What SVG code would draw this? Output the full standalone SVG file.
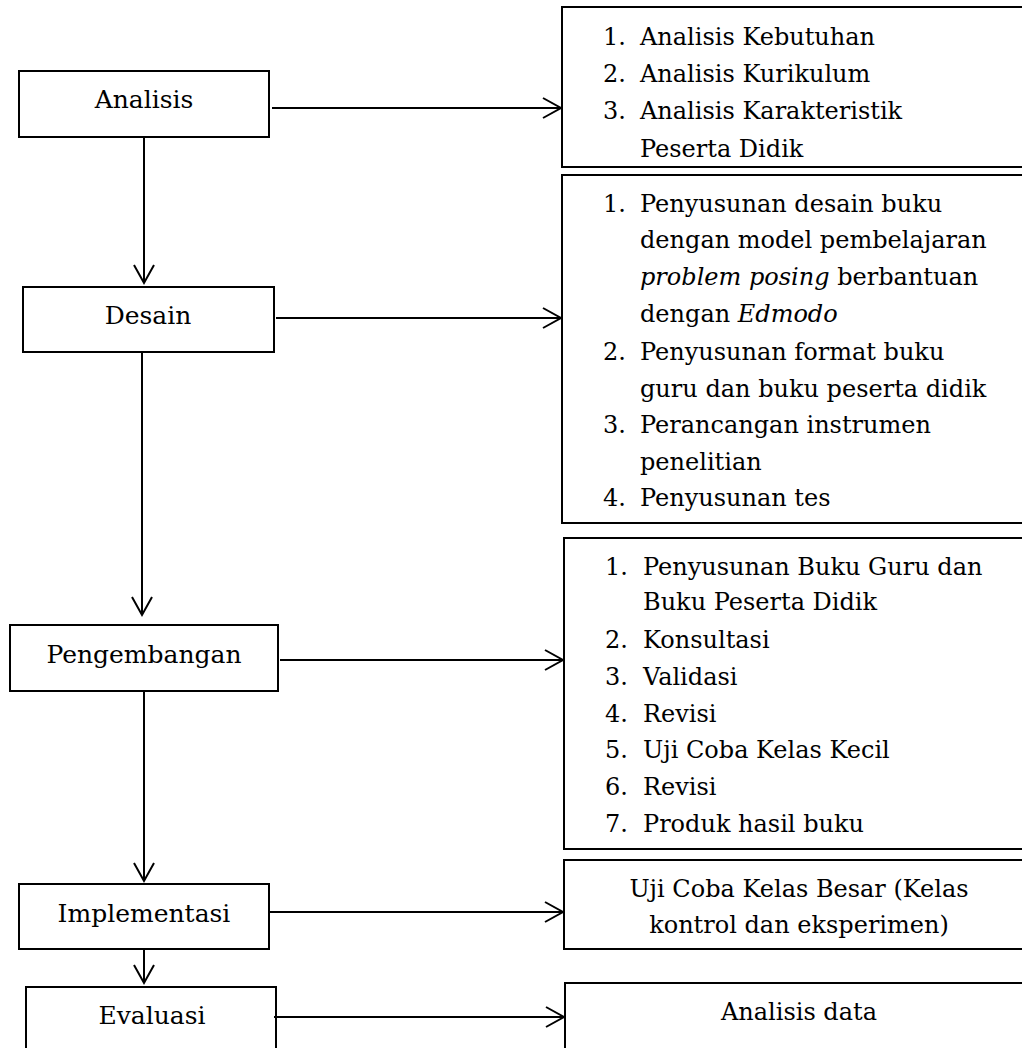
<svg xmlns="http://www.w3.org/2000/svg" width="1022" height="1048" viewBox="0 0 1022 1048">
<style>
.box{fill:#fff;stroke:#000;stroke-width:2}
.lt{font-family:"DejaVu Serif","Liberation Serif",serif;font-size:25px;fill:#000;text-anchor:middle}
.rt{font-family:"DejaVu Serif","Liberation Serif",serif;font-size:24px;fill:#000}
.c{text-anchor:middle}
.it{font-style:italic}
.ln{stroke:#000;stroke-width:2;fill:none;marker-end:url(#ah)}
</style>
<defs>
<marker id="ah" markerUnits="userSpaceOnUse" markerWidth="24" markerHeight="24" viewBox="-20 -12 24 24" refX="0" refY="0" orient="auto">
<path d="M-18,-10 L0,0 L-18,10" fill="none" stroke="#000" stroke-width="2"/>
</marker>
</defs>
<rect width="1022" height="1048" fill="#fff"/>
<g id="analisis"><rect class="box" x="19" y="71" width="250" height="66"/><text class="lt" x="144" y="108">Analisis</text></g>
<g id="desain"><rect class="box" x="23" y="287" width="251" height="65"/><text class="lt" x="148" y="324">Desain</text></g>
<g id="pengembangan"><rect class="box" x="10" y="625" width="268" height="66"/><text class="lt" x="144" y="663">Pengembangan</text></g>
<g id="implementasi"><rect class="box" x="19" y="884" width="250" height="65"/><text class="lt" x="144" y="922">Implementasi</text></g>
<g id="evaluasi"><rect class="box" x="26" y="987" width="250" height="80"/><text class="lt" x="152" y="1024">Evaluasi</text></g>
<g id="analisis-detail"><rect class="box" x="562" y="7" width="480" height="160"/>
<text class="rt"><tspan x="603" y="45">1.</tspan><tspan x="640" y="45">Analisis Kebutuhan</tspan><tspan x="603" y="82">2.</tspan><tspan x="640" y="82">Analisis Kurikulum</tspan><tspan x="603" y="119">3.</tspan><tspan x="640" y="119">Analisis Karakteristik</tspan><tspan x="640" y="157">Peserta Didik</tspan></text></g>
<g id="desain-detail"><rect class="box" x="562" y="175" width="480" height="348"/>
<text class="rt"><tspan x="603" y="212">1.</tspan><tspan x="640" y="212">Penyusunan desain buku</tspan><tspan x="640" y="248">dengan model pembelajaran</tspan><tspan x="640" y="285" class="it">problem posing</tspan><tspan> berbantuan</tspan><tspan x="640" y="322">dengan </tspan><tspan class="it">Edmodo</tspan><tspan x="603" y="360">2.</tspan><tspan x="640" y="360">Penyusunan format buku</tspan><tspan x="640" y="397">guru dan buku peserta didik</tspan><tspan x="603" y="433">3.</tspan><tspan x="640" y="433">Perancangan instrumen</tspan><tspan x="640" y="470">penelitian</tspan><tspan x="603" y="506">4.</tspan><tspan x="640" y="506">Penyusunan tes</tspan></text></g>
<g id="pengembangan-detail"><rect class="box" x="564" y="538" width="480" height="311"/>
<text class="rt"><tspan x="605" y="575">1.</tspan><tspan x="643" y="575">Penyusunan Buku Guru dan</tspan><tspan x="643" y="610">Buku Peserta Didik</tspan><tspan x="605" y="648">2.</tspan><tspan x="643" y="648">Konsultasi</tspan><tspan x="605" y="685">3.</tspan><tspan x="643" y="685">Validasi</tspan><tspan x="605" y="722">4.</tspan><tspan x="643" y="722">Revisi</tspan><tspan x="605" y="758">5.</tspan><tspan x="643" y="758">Uji Coba Kelas Kecil</tspan><tspan x="605" y="795">6.</tspan><tspan x="643" y="795">Revisi</tspan><tspan x="605" y="832">7.</tspan><tspan x="643" y="832">Produk hasil buku</tspan></text></g>
<g id="implementasi-detail"><rect class="box" x="564" y="860" width="480" height="89"/>
<text class="rt c"><tspan x="799" y="897">Uji Coba Kelas Besar (Kelas</tspan><tspan x="799" y="933">kontrol dan eksperimen)</tspan></text></g>
<g id="evaluasi-detail"><rect class="box" x="565" y="983" width="480" height="80"/>
<text class="rt c" x="799" y="1020">Analisis data</text></g>
<g id="connectors">
<line class="ln" x1="272" y1="108" x2="561" y2="108"/>
<line class="ln" x1="276" y1="318" x2="561" y2="318"/>
<line class="ln" x1="280" y1="660" x2="563" y2="660"/>
<line class="ln" x1="269" y1="912" x2="563" y2="912"/>
<line class="ln" x1="274" y1="1017" x2="564" y2="1017"/>
<line class="ln" x1="144" y1="137" x2="144" y2="283"/>
<line class="ln" x1="142" y1="352" x2="142" y2="615"/>
<line class="ln" x1="144" y1="691" x2="144" y2="881"/>
<line class="ln" x1="144" y1="949" x2="144" y2="983"/>
</g>
</svg>
